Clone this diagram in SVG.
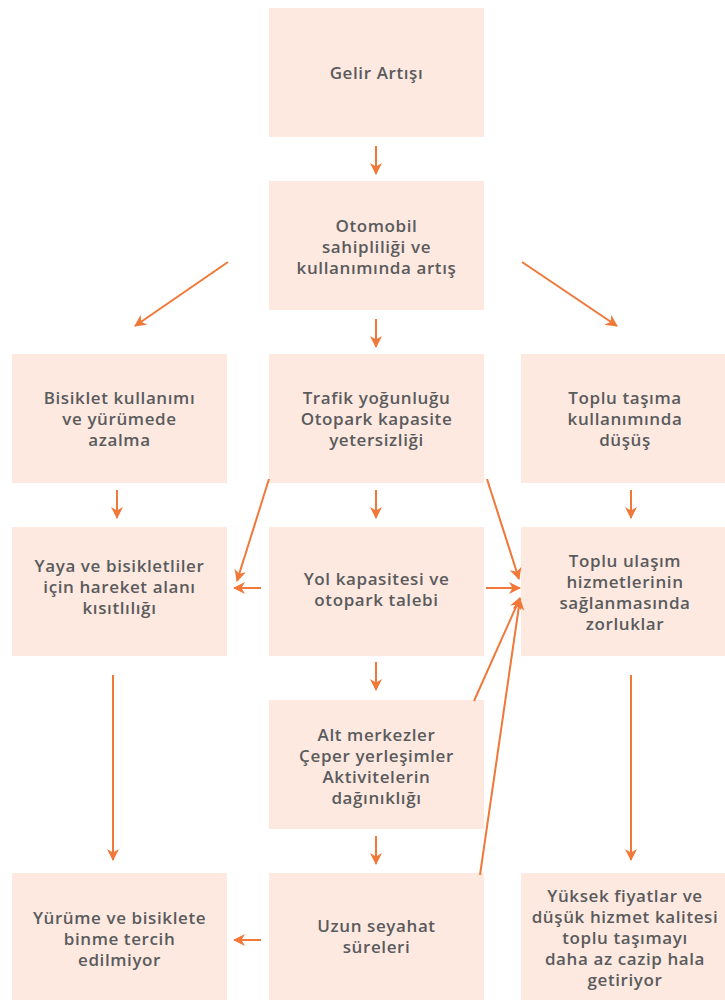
<svg xmlns="http://www.w3.org/2000/svg" width="725" height="1000" viewBox="0 0 725 1000">
<style>
.b{fill:#fde9e0}
.t{font-family:"Open Sans","Noto Sans",sans-serif;font-weight:600;font-size:17px;letter-spacing:0.6px;fill:#5a5b5d;text-anchor:middle}
.c{stroke:#f07838;stroke-width:2;fill:none;marker-end:url(#ah)}
</style>
<defs>
<marker id="ah" viewBox="0 0 12 12" refX="11" refY="6" markerWidth="12" markerHeight="12" markerUnits="userSpaceOnUse" orient="auto">
<path d="M0,0 L12,6 L0,12 L3.5,6 z" fill="#f07838"/>
</marker>
</defs>
<rect width="725" height="1000" fill="#fff"/>
<g id="n1"><rect class="b" x="269" y="8" width="215" height="129"/><text class="t" x="376.5" y="79">Gelir Artışı</text></g>
<g id="n2"><rect class="b" x="269" y="181" width="215" height="129"/><text class="t" x="376.5" y="232">Otomobil</text><text class="t" x="376.5" y="253">sahipliliği ve</text><text class="t" x="376.5" y="274">kullanımında artış</text></g>
<g id="n3"><rect class="b" x="12" y="354" width="215" height="129"/><text class="t" x="119.5" y="404">Bisiklet kullanımı</text><text class="t" x="119.5" y="425">ve yürümede</text><text class="t" x="119.5" y="446">azalma</text></g>
<g id="n4"><rect class="b" x="269" y="354" width="215" height="129"/><text class="t" x="376.5" y="404">Trafik yoğunluğu</text><text class="t" x="376.5" y="425">Otopark kapasite</text><text class="t" x="376.5" y="446">yetersizliği</text></g>
<g id="n5"><rect class="b" x="521" y="354" width="215" height="129"/><text class="t" x="625" y="404">Toplu taşıma</text><text class="t" x="625" y="425">kullanımında</text><text class="t" x="625" y="446">düşüş</text></g>
<g id="n6"><rect class="b" x="12" y="527" width="215" height="129"/><text class="t" x="119.5" y="572">Yaya ve bisikletliler</text><text class="t" x="119.5" y="593">için hareket alanı</text><text class="t" x="119.5" y="614">kısıtlılığı</text></g>
<g id="n7"><rect class="b" x="269" y="527" width="215" height="129"/><text class="t" x="376.5" y="585">Yol kapasitesi ve</text><text class="t" x="376.5" y="606">otopark talebi</text></g>
<g id="n8"><rect class="b" x="521" y="527" width="215" height="129"/><text class="t" x="625" y="567">Toplu ulaşım</text><text class="t" x="625" y="588">hizmetlerinin</text><text class="t" x="625" y="609">sağlanmasında</text><text class="t" x="625" y="630">zorluklar</text></g>
<g id="n9"><rect class="b" x="269" y="700" width="215" height="129"/><text class="t" x="376.5" y="741">Alt merkezler</text><text class="t" x="376.5" y="762">Çeper yerleşimler</text><text class="t" x="376.5" y="783">Aktivitelerin</text><text class="t" x="376.5" y="804">dağınıklığı</text></g>
<g id="n10"><rect class="b" x="12" y="873" width="215" height="129"/><text class="t" x="119.5" y="924">Yürüme ve bisiklete</text><text class="t" x="119.5" y="945">binme tercih</text><text class="t" x="119.5" y="966">edilmiyor</text></g>
<g id="n11"><rect class="b" x="269" y="873" width="215" height="129"/><text class="t" x="376.5" y="932">Uzun seyahat</text><text class="t" x="376.5" y="953">süreleri</text></g>
<g id="n12"><rect class="b" x="521" y="873" width="215" height="129"/><text class="t" x="625" y="902">Yüksek fiyatlar ve</text><text class="t" x="625" y="923">düşük hizmet kalitesi</text><text class="t" x="625" y="944">toplu taşımayı</text><text class="t" x="625" y="965">daha az cazip hala</text><text class="t" x="625" y="986">getiriyor</text></g>
<g id="connectors">
<line class="c" x1="376" y1="146" x2="376" y2="174"/>
<line class="c" x1="376" y1="319" x2="376" y2="347"/>
<line class="c" x1="228" y1="262" x2="135" y2="326"/>
<line class="c" x1="522" y1="262" x2="617" y2="326"/>
<line class="c" x1="117" y1="490" x2="117" y2="518"/>
<line class="c" x1="376" y1="490" x2="376" y2="518"/>
<line class="c" x1="631" y1="490" x2="631" y2="518"/>
<line class="c" x1="269" y1="479" x2="237" y2="581"/>
<line class="c" x1="487" y1="479" x2="519" y2="579"/>
<line class="c" x1="261" y1="588" x2="234" y2="588"/>
<line class="c" x1="486" y1="588" x2="520" y2="588"/>
<line class="c" x1="474" y1="701" x2="520" y2="598"/>
<line class="c" x1="480" y1="875" x2="520" y2="599"/>
<line class="c" x1="376" y1="662" x2="376" y2="690"/>
<line class="c" x1="376" y1="836" x2="376" y2="864"/>
<line class="c" x1="113" y1="675" x2="113" y2="860"/>
<line class="c" x1="631" y1="675" x2="631" y2="860"/>
<line class="c" x1="261" y1="940" x2="234" y2="940"/>
</g>
</svg>
